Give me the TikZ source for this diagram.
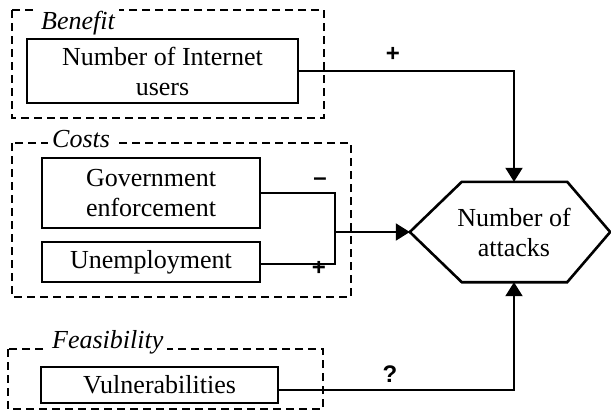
\documentclass[tikz,border=0pt]{standalone}
\usepackage{fontspec}
\setmainfont{Liberation Serif}
\setsansfont{Liberation Sans}
\usetikzlibrary{arrows.meta}
\begin{document}
\begin{tikzpicture}[x=1pt,y=-1pt,
  box/.style={draw, line width=2.6pt, inner sep=0pt, align=center, font=\fontsize{26}{30}\selectfont},
  group/.style={draw, line width=2pt, dash pattern=on 8pt off 5pt},
  grouplabel/.style={fill=white, inner xsep=4pt, inner ysep=3pt, anchor=base west, font=\fontsize{26}{30}\selectfont\itshape},
  conn/.style={line width=2pt},
  arr/.style={conn, -{Triangle[length=14pt,width=17pt]}},
  sign/.style={font=\fontsize{24}{24}\selectfont\sffamily\bfseries, inner sep=0pt}
]
\useasboundingbox (0,0) rectangle (611,413);
% groups
\draw[group] (12,10) rectangle (324,118);
\draw[group] (12,143) rectangle (351,297);
\draw[group] (8,349) rectangle (323,409);
\node[grouplabel] (lben) at (37,29) {Benefit};
\node[grouplabel] (lcost) at (48,147) {Costs};
\node[grouplabel] (lfeas) at (48,348) {Feasibility};
% boxes
\node[box, minimum width=271pt, minimum height=64pt] (inet) at (162.5,71) {Number of Internet\\users};
\node[box, minimum width=218pt, minimum height=70pt] (gov) at (151,193) {Government\\enforcement};
\node[box, minimum width=218pt, minimum height=40pt] (unemp) at (151,262) {Unemployment};
\node[box, minimum width=237pt, minimum height=36pt] (vul) at (159.5,385) {Vulnerabilities};
% hexagon
\node[minimum width=200pt, minimum height=100pt, inner sep=0pt] (hex) at (510,232) {};
\draw[line width=2.6pt, line join=miter] (hex.west) -- ([xshift=52pt]hex.north west) -- ([xshift=-43pt]hex.north east) -- (hex.east) -- ([xshift=-43pt]hex.south east) -- ([xshift=52pt]hex.south west) -- cycle;
\node[align=center, inner sep=0pt, font=\fontsize{26}{30}\selectfont] (hext) at (514,232) {Number of\\attacks};
% connectors
\coordinate (j) at (335,232);
\draw[arr] (inet.east) -| ([xshift=4pt]hex.north);
\draw[conn] (gov.east) -| (j) |- ([yshift=-2pt]unemp.east);
\draw[arr] (j) -- (hex.west);
\draw[arr] ([yshift=-5pt]vul.east) -| ([xshift=4pt]hex.south);
% signs
\node[sign] (s1) at (393,54) {+};
\node[sign] (s2) at (320,182) {–};
\node[sign] (s3) at (319,268) {+};
\node[sign] (s4) at (390,374) {?};
\end{tikzpicture}
\end{document}
